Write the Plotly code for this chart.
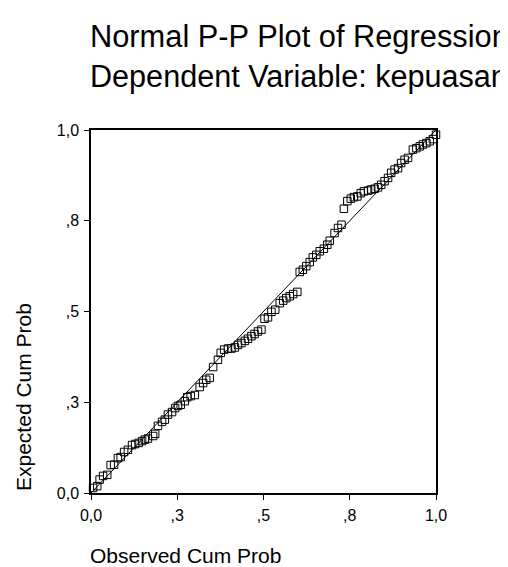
import plotly.graph_objects as go

# Observed cumulative probability (x) and expected cumulative probability (y)
observed_cum_prob = [
    0.006, 0.018, 0.025, 0.035, 0.047, 0.057, 0.067, 0.078, 0.086, 0.096,
    0.107, 0.119, 0.128, 0.138, 0.148, 0.156, 0.165, 0.180, 0.186, 0.194,
    0.206, 0.214, 0.223, 0.235, 0.244, 0.252, 0.260, 0.272, 0.279, 0.289,
    0.301, 0.315, 0.325, 0.334, 0.344, 0.354, 0.368, 0.376, 0.386, 0.397,
    0.407, 0.417, 0.426, 0.436, 0.446, 0.455, 0.465, 0.474, 0.484, 0.494,
    0.503, 0.513, 0.523, 0.534, 0.547, 0.557, 0.566, 0.576, 0.586, 0.598,
    0.605, 0.614, 0.624, 0.634, 0.643, 0.653, 0.663, 0.675, 0.685, 0.692,
    0.706, 0.716, 0.726, 0.733, 0.743, 0.753, 0.762, 0.772, 0.782, 0.791,
    0.803, 0.812, 0.822, 0.832, 0.841, 0.851, 0.861, 0.870, 0.880, 0.890,
    0.899, 0.909, 0.919, 0.933, 0.943, 0.953, 0.962, 0.972, 0.982, 0.991,
    1.000,
]
expected_cum_prob = [
    0.014, 0.019, 0.037, 0.047, 0.050, 0.077, 0.078, 0.096, 0.099, 0.113,
    0.119, 0.132, 0.135, 0.138, 0.143, 0.147, 0.150, 0.157, 0.163, 0.185,
    0.196, 0.202, 0.216, 0.223, 0.234, 0.240, 0.243, 0.253, 0.264, 0.267,
    0.270, 0.292, 0.303, 0.312, 0.317, 0.347, 0.367, 0.386, 0.395, 0.398,
    0.398, 0.401, 0.408, 0.413, 0.419, 0.425, 0.432, 0.438, 0.445, 0.450,
    0.480, 0.484, 0.499, 0.505, 0.523, 0.530, 0.537, 0.542, 0.548, 0.554,
    0.609, 0.615, 0.625, 0.636, 0.649, 0.656, 0.666, 0.673, 0.684, 0.695,
    0.716, 0.730, 0.739, 0.783, 0.804, 0.811, 0.815, 0.817, 0.826, 0.831,
    0.833, 0.836, 0.838, 0.842, 0.849, 0.859, 0.868, 0.882, 0.891, 0.895,
    0.909, 0.918, 0.923, 0.946, 0.950, 0.955, 0.960, 0.964, 0.969, 0.975,
    0.987,
]

# Reference (normal) diagonal
diag_x = [0.0, 1.0]
diag_y = [0.0, 1.0]

tick_vals = [0.0, 0.25, 0.5, 0.75, 1.0]
tick_text = ["0,0", ",3", ",5", ",8", "1,0"]

title_line1 = "Normal P-P Plot of Regression Standardized Residual"
title_line2 = "Dependent Variable: kepuasan"
x_title = "Observed Cum Prob"
y_title = "Expected Cum Prob"

FONT = "Arial, Liberation Sans, sans-serif"

fig = go.Figure()
fig.add_trace(go.Scatter(
    x=diag_x, y=diag_y, mode="lines",
    line=dict(color="black", width=1), hoverinfo="skip", showlegend=False,
))
fig.add_trace(go.Scatter(
    x=observed_cum_prob, y=expected_cum_prob, mode="markers",
    marker=dict(symbol="square-open", size=7.5, color="black", line=dict(width=1, color="black")),
    cliponaxis=False, showlegend=False,
))

axis_common = dict(
    range=[0, 1], tickvals=tick_vals, ticktext=tick_text,
    showgrid=False, zeroline=False, showline=True, linecolor="black", linewidth=1.5,
    mirror=True, ticks="outside", ticklen=5, tickwidth=1, tickcolor="black",
    ticklabelstandoff=2,
    tickfont=dict(family=FONT, size=16, color="black"),
)

fig.update_layout(
    width=508, height=567,
    margin=dict(l=83, r=80, t=122, b=82),
    paper_bgcolor="white", plot_bgcolor="white",
    xaxis=axis_common,
    yaxis=axis_common,
    font=dict(family=FONT, color="black"),
    annotations=[
        dict(text=title_line1, xref="paper", yref="paper", x=0, y=(485 - 29) / 363,
             xanchor="left", yanchor="middle", xshift=-3, showarrow=False, font=dict(size=30.8)),
        dict(text=title_line2, xref="paper", yref="paper", x=0, y=(485 - 68) / 363,
             xanchor="left", yanchor="middle", xshift=-3, showarrow=False, font=dict(size=30.6)),
        dict(text=x_title, xref="paper", yref="paper", x=0, y=(485 - 547) / 363,
             xanchor="left", yanchor="middle", xshift=-3, showarrow=False, font=dict(size=21)),
        dict(text=y_title, xref="paper", yref="paper", x=(15 - 83) / 345, y=0,
             xanchor="center", yanchor="bottom", textangle=-90, showarrow=False,
             font=dict(size=21)),
    ],
)

fig.write_html("out.html")
